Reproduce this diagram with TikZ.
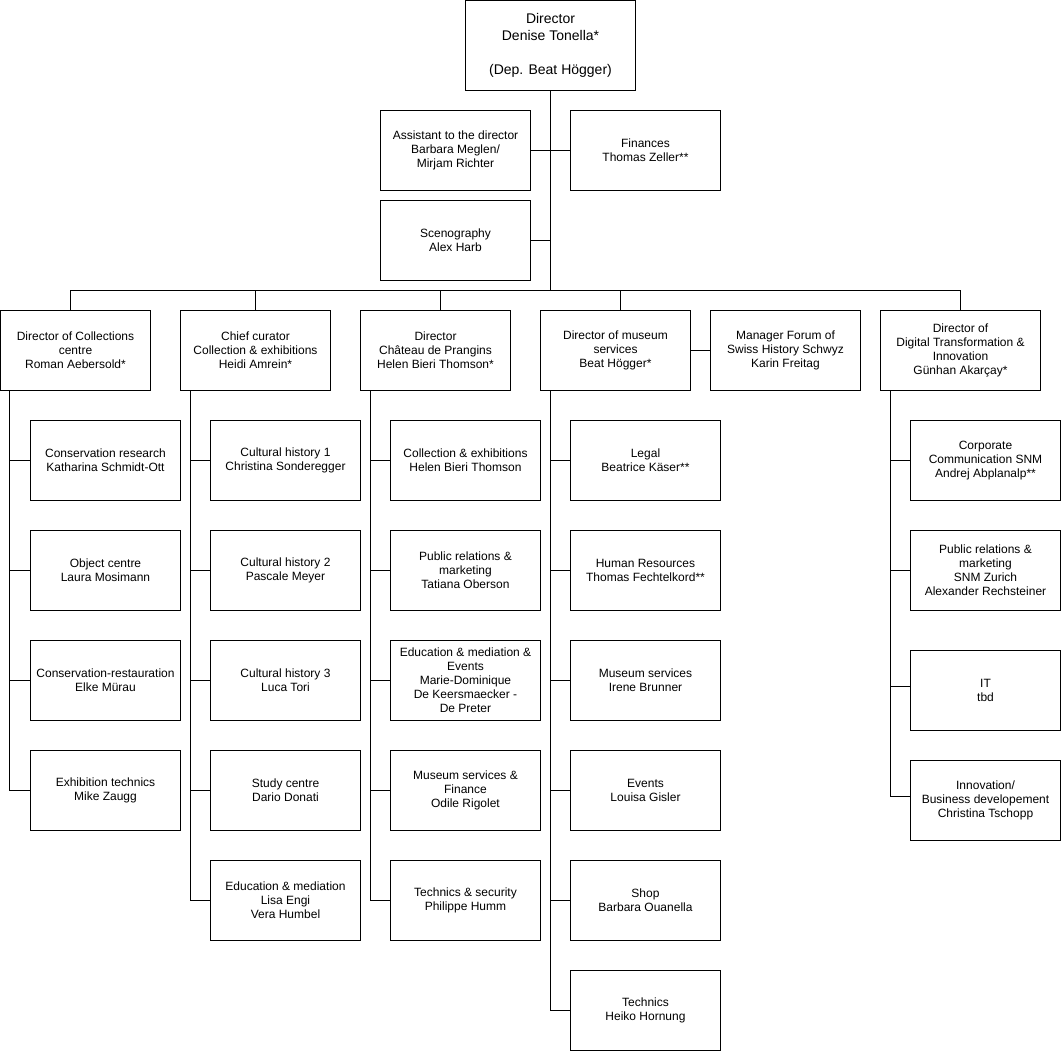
\documentclass[tikz,border=0pt]{standalone}
\usepackage{fontspec}
\setmainfont{Liberation Sans}

\tikzset{
  unit/.style={draw, line width=1pt, minimum width=150pt, minimum height=80pt,
    inner sep=1pt, align=center, font=\fontsize{12}{14}\selectfont},
  link/.style={line width=1pt},
}

\begin{document}
\begin{tikzpicture}[x=1pt,y=-1pt]
\useasboundingbox (-0.5,-0.5) rectangle (1060.5,1050.5);

% Direction
\node[unit, minimum width=170pt, minimum height=90pt, font=\fontsize{14}{17}\selectfont]
  (dir) at (550,45) {Director\\Denise Tonella*\\~\\(Dep. Beat Högger)};
\node[unit] (asst) at (455,150) {Assistant to the director\\Barbara Meglen/\\Mirjam Richter};
\node[unit] (fin) at (645,150) {Finances\\Thomas Zeller**};
\node[unit] (sceno) at (455,240) {Scenography\\Alex Harb};

% Departments
\node[unit] (coll) at (75,350) {Director of Collections\\centre\\Roman Aebersold*};
\node[unit] (cur) at (255,350) {Chief curator\\Collection \& exhibitions\\Heidi Amrein*};
\node[unit] (prang) at (435,350) {Director\\Château de Prangins\\Helen Bieri Thomson*};
\node[unit] (mus) at (615,350) {Director of museum\\services\\Beat Högger*};
\node[unit] (forum) at (785,350) {Manager Forum of\\Swiss History Schwyz\\Karin Freitag};
\node[unit, minimum width=160pt] (digi) at (960,350) {Director of\\Digital Transformation \&\\Innovation\\Günhan Akarçay*};

% Collections centre
\node[unit] (cc1) at (105,460) {Conservation research\\Katharina Schmidt-Ott};
\node[unit] (cc2) at (105,570) {Object centre\\Laura Mosimann};
\node[unit] (cc3) at (105,680) {Conservation-restauration\\Elke Mürau};
\node[unit] (cc4) at (105,790) {Exhibition technics\\Mike Zaugg};

% Chief curator
\node[unit] (cu1) at (285,460) {Cultural history 1\\Christina Sonderegger};
\node[unit] (cu2) at (285,570) {Cultural history 2\\Pascale Meyer};
\node[unit] (cu3) at (285,680) {Cultural history 3\\Luca Tori};
\node[unit] (cu4) at (285,790) {Study centre\\Dario Donati};
\node[unit] (cu5) at (285,900) {Education \& mediation\\Lisa Engi\\Vera Humbel};

% Prangins
\node[unit] (pr1) at (465,460) {Collection \& exhibitions\\Helen Bieri Thomson};
\node[unit] (pr2) at (465,570) {Public relations \&\\marketing\\Tatiana Oberson};
\node[unit] (pr3) at (465,680) {Education \& mediation \&\\Events\\Marie-Dominique\\De Keersmaecker -\\De Preter};
\node[unit] (pr4) at (465,790) {Museum services \&\\Finance\\Odile Rigolet};
\node[unit] (pr5) at (465,900) {Technics \& security\\Philippe Humm};

% Museum services
\node[unit] (ms1) at (645,460) {Legal\\Beatrice Käser**};
\node[unit] (ms2) at (645,570) {Human Resources\\Thomas Fechtelkord**};
\node[unit] (ms3) at (645,680) {Museum services\\Irene Brunner};
\node[unit] (ms4) at (645,790) {Events\\Louisa Gisler};
\node[unit] (ms5) at (645,900) {Shop\\Barbara Ouanella};
\node[unit] (ms6) at (645,1010) {Technics\\Heiko Hornung};

% Digital transformation
\node[unit] (dt1) at (985,460) {Corporate\\Communication SNM\\Andrej Abplanalp**};
\node[unit] (dt2) at (985,570) {Public relations \&\\marketing\\SNM Zurich\\Alexander Rechsteiner};
\node[unit] (dt3) at (985,690) {IT\\tbd};
\node[unit] (dt4) at (985,800) {Innovation/\\Business developement\\Christina Tschopp};

% Links
\coordinate (bus) at (550,290);
\draw[link] (dir.south) -- (bus);
\draw[link] (asst.east) -- (fin.west);
\draw[link] (sceno.east) -- (sceno.east -| bus);
\draw[link] (bus) -| ([xshift=-5pt]coll.north);
\draw[link] (bus) -| (cur.north);
\draw[link] (bus) -| ([xshift=5pt]prang.north);
\draw[link] (bus) -| ([xshift=5pt]mus.north);
\draw[link] (bus) -| (digi.north);
\draw[link] (mus.east) -- (forum.west);

\foreach \n in {1,...,4}
  \draw[link] ([xshift=10pt]coll.south west) |- (cc\n.west);
\foreach \n in {1,...,5}
  \draw[link] ([xshift=10pt]cur.south west) |- (cu\n.west);
\foreach \n in {1,...,5}
  \draw[link] ([xshift=10pt]prang.south west) |- (pr\n.west);
\foreach \n in {1,...,6}
  \draw[link] ([xshift=10pt]mus.south west) |- (ms\n.west);
\foreach \n/\s in {1/0,2/0,3/4,4/4}
  \draw[link] ([xshift=10pt]digi.south west) |- ([yshift=\s pt]dt\n.west);

\end{tikzpicture}
\end{document}
